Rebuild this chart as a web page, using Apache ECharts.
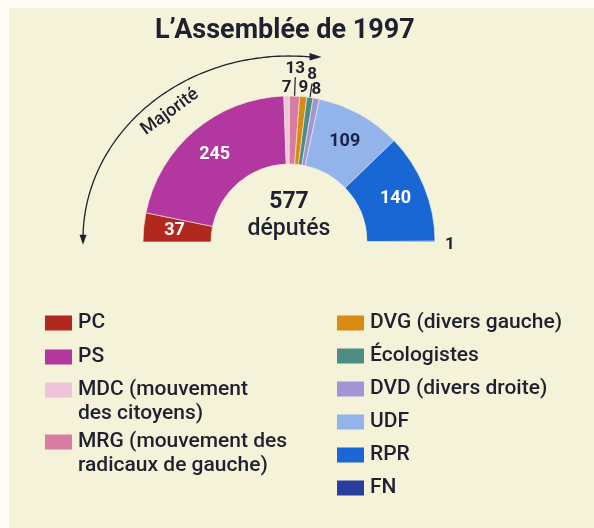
<!DOCTYPE html>
<html>
<head>
<meta charset="utf-8">
<script src="https://cdn.jsdelivr.net/npm/echarts@6/dist/echarts.min.js"></script>
<style>
  html, body { margin: 0; padding: 0; background: #fdfdf6; }
  #chart { width: 585px; height: 520px; margin: 8px 0 0 9px; }
</style>
</head>
<body>
<div id="chart"></div>
<script>
// seats per group, left to right
const parties = ['PC', 'PS', 'MDC', 'MRG', 'DVG', 'Écologistes', 'DVD', 'UDF', 'RPR', 'FN'];
const seats = [37, 245, 7, 13, 9, 8, 8, 109, 140, 1];
const legendLabels = [
  'PC',
  'PS',
  'MDC (mouvement\ndes citoyens)',
  'MRG (mouvement des\nradicaux de gauche)',
  'DVG (divers gauche)',
  'Écologistes',
  'DVD (divers droite)',
  'UDF',
  'RPR',
  'FN'
];
const palette = ['#b0281e', '#b2379f', '#f1c3da', '#d97ca3', '#d98a12', '#4e8c88', '#a295d6', '#93b3eb', '#1867d4', '#2a3c9c'];
const leaderParties = ['MRG', 'Écologistes'];

const BG = '#f4f2d8';
const INK = '#1f2030';
const FONT = 'Roboto';
const total = seats.reduce((a, b) => a + b, 0);

// center of the hemicycle (chart coords)
const CX = 280, CY = 234;

const chart = echarts.init(document.getElementById('chart'));

const data = parties.map((name, i) => {
  const big = seats[i] >= 30;
  const leader = leaderParties.includes(name);
  let lineLen = 0;
  if (name === 'MRG') lineLen = 19;
  if (name === 'Écologistes') lineLen = 14;
  if (name === 'FN') lineLen = 6;
  return {
    name: name,
    value: seats[i],
    itemStyle: { color: palette[i] },
    label: big
      ? { position: 'inside', color: name === 'UDF' ? '#1b2148' : '#ffffff', fontSize: 18, fontWeight: 'bold' }
      : { position: 'outside', color: INK, fontSize: 17, fontWeight: 'bold', distanceToLabelLine: name === 'FN' ? 4 : 0 },
    labelLine: {
      show: leader,
      length: lineLen,
      length2: 0,
      lineStyle: { color: INK, width: 1.2 }
    }
  };
});

// "Majorité" arrow around the left side
const AX = 280, AY = 231, RX = 206, RY = 183;
const arcPts = [];
for (let a = 84; a <= 179; a += 1) {
  const t = a * Math.PI / 180;
  arcPts.push([AX + RX * Math.cos(t), AY - RY * Math.sin(t)]);
}
const topEnd = arcPts[0];
const leftEnd = arcPts[arcPts.length - 1];

const legendText = {
  color: INK,
  fontSize: 21,
  fontWeight: 500,
  fontFamily: FONT,
  lineHeight: 24
};
const legendBase = {
  orient: 'vertical',
  icon: 'rect',
  itemWidth: 29,
  itemHeight: 17,
  padding: 0,
  selectedMode: false,
  textStyle: legendText
};
// two-line entries: a leading empty line keeps the swatch beside the first line
const plainLabel = name => legendLabels[parties.indexOf(name)];
const wrappedLabel = name => '\n' + legendLabels[parties.indexOf(name)];

const option = {
  backgroundColor: BG,
  animation: false,
  textStyle: { fontFamily: FONT },
  title: {
    text: 'L’Assemblée de 1997',
    left: 146,
    top: 10,
    padding: 0,
    textStyle: { color: INK, fontSize: 27, fontWeight: 'bold', fontFamily: FONT }
  },
  legend: [
    Object.assign({}, legendBase, {
      data: ['PC', 'PS'], left: 34, top: 303, itemGap: 10, formatter: plainLabel
    }),
    Object.assign({}, legendBase, {
      data: ['MDC'], left: 34, top: 346, formatter: wrappedLabel
    }),
    Object.assign({}, legendBase, {
      data: ['MRG'], left: 34, top: 398, formatter: wrappedLabel
    }),
    Object.assign({}, legendBase, {
      data: ['DVG', 'Écologistes', 'DVD', 'UDF', 'RPR', 'FN'], left: 326, top: 303, itemGap: 9,
      formatter: plainLabel
    })
  ],
  graphic: [
    {
      type: 'text', x: CX, y: 194,
      style: { text: String(total), align: 'center', verticalAlign: 'middle', fill: INK, font: 'bold 23px ' + FONT }
    },
    {
      type: 'text', x: CX, y: 221,
      style: { text: 'députés', align: 'center', verticalAlign: 'middle', fill: INK, font: '500 23px ' + FONT }
    },
    {
      type: 'polyline', silent: true,
      shape: { points: arcPts },
      style: { stroke: INK, lineWidth: 1.3, fill: null }
    },
    {
      type: 'polygon', silent: true,
      shape: { points: [[topEnd[0] - 1, topEnd[1] - 4], [topEnd[0] + 11, topEnd[1]], [topEnd[0] - 1, topEnd[1] + 3.5]] },
      style: { fill: INK }
    },
    {
      type: 'polygon', silent: true,
      shape: { points: [[leftEnd[0] - 3.5, leftEnd[1] - 1], [leftEnd[0], leftEnd[1] + 9], [leftEnd[0] + 3.5, leftEnd[1] - 1]] },
      style: { fill: INK }
    },
    {
      type: 'text', x: 161, y: 104, rotation: 0.63,
      style: { text: 'Majorité', align: 'center', verticalAlign: 'middle', fill: INK, font: '500 18px ' + FONT }
    }
  ],
  series: [
    {
      type: 'pie',
      silent: true,
      center: [CX, CY],
      radius: [78, 146],
      startAngle: 180,
      endAngle: 0,
      avoidLabelOverlap: false,
      itemStyle: { borderColor: BG, borderWidth: 0.6 },
      label: { show: true, formatter: '{c}', fontFamily: FONT },
      labelLayout: function (params) {
        const i = params.dataIndex;
        if (seats[i] >= 30) return {};
        if (parties[i] === 'FN') return { dy: 3 };
        return { align: 'center', verticalAlign: 'bottom' };
      },
      data: data
    }
  ]
};

chart.setOption(option);
</script>
</body>
</html>
